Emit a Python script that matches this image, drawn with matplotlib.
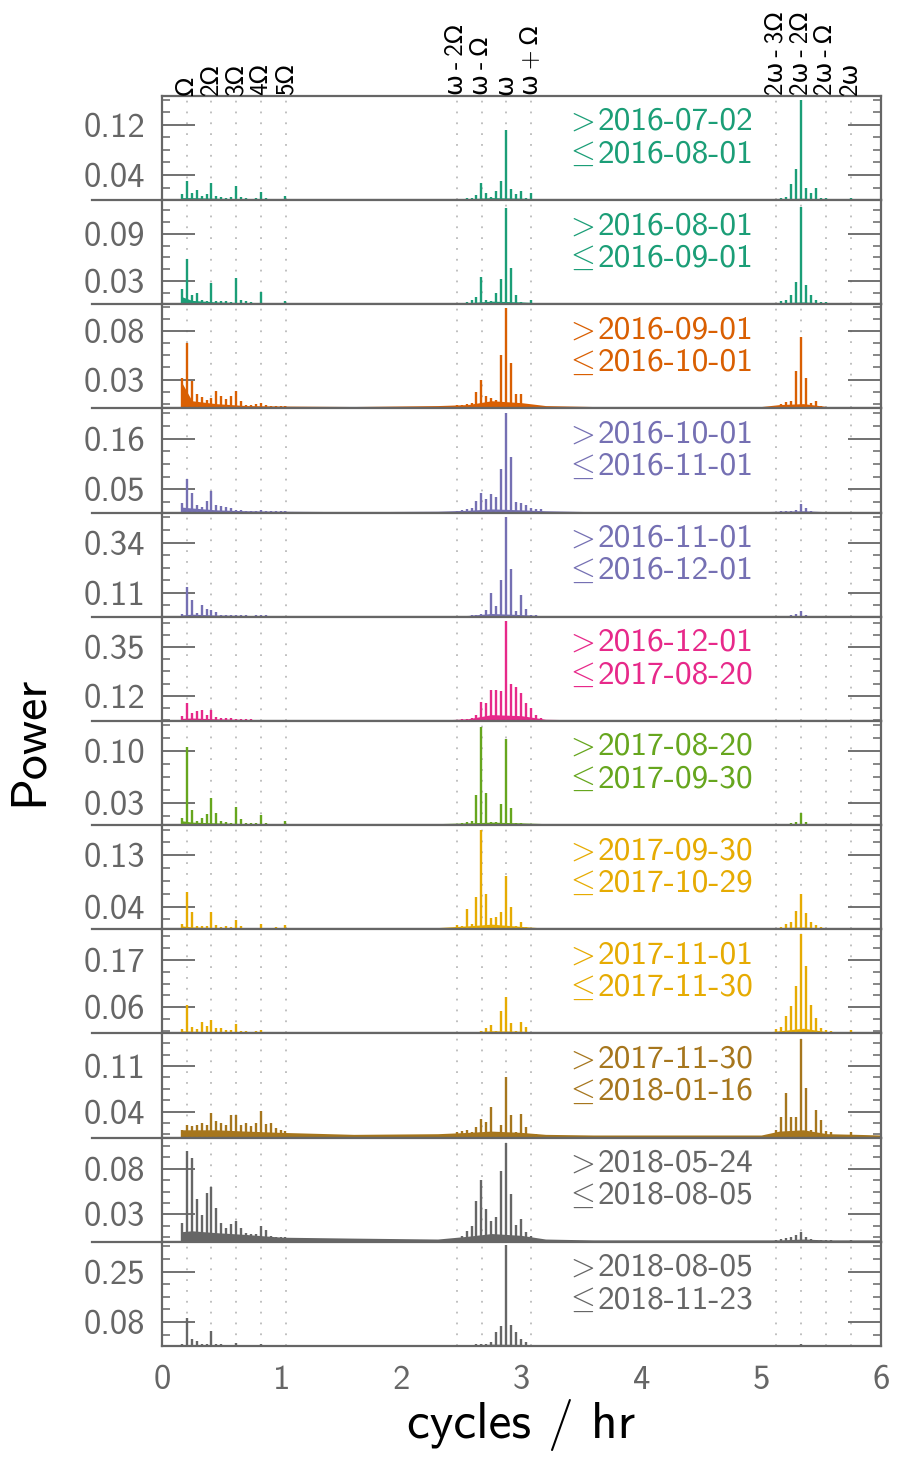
import matplotlib
matplotlib.use("Agg")
import matplotlib.pyplot as plt

plt.rcParams['font.family'] = ['cmss10', 'DejaVu Sans']
plt.rcParams['mathtext.fontset'] = 'cm'
plt.rcParams['axes.unicode_minus'] = False

# --- data -----------------------------------------------------------------
f_orb = 0.2063   # Omega, cycles / hr
f_spin = 2.873   # omega, cycles / hr

date_from = ['2016-07-02', '2016-08-01', '2016-09-01', '2016-10-01', '2016-11-01', '2016-12-01',
             '2017-08-20', '2017-09-30', '2017-11-01', '2017-11-30', '2018-05-24', '2018-08-05']
date_to = ['2016-08-01', '2016-09-01', '2016-10-01', '2016-11-01', '2016-12-01', '2017-08-20',
           '2017-09-30', '2017-10-29', '2017-11-30', '2018-01-16', '2018-08-05', '2018-11-23']
colors = ['#1b9e77', '#1b9e77', '#d95f02', '#7570b3', '#7570b3', '#e7298a',
          '#66a61e', '#e6ab02', '#e6ab02', '#a6761d', '#666666', '#666666']

y_top = [0.166, 0.133, 0.108, 0.225, 0.477, 0.495, 0.14, 0.183, 0.24, 0.16, 0.114, 0.35]
tick_lo = [0.04, 0.03, 0.03, 0.05, 0.11, 0.12, 0.03, 0.04, 0.06, 0.04, 0.03, 0.08]
tick_hi = [0.12, 0.09, 0.08, 0.16, 0.34, 0.35, 0.10, 0.13, 0.17, 0.11, 0.08, 0.25]

# peaks near the orbital harmonics
low_freq = [0.164, 0.206, 0.248, 0.290, 0.330, 0.373, 0.412, 0.453, 0.495, 0.537, 0.577,
            0.618, 0.660, 0.700, 0.742, 0.784, 0.824, 0.866, 0.907, 0.950, 0.990, 1.030]
low_power = [
    [0.0095, 0.031, 0.012, 0.016, 0.006, 0.009, 0.027, 0.007, 0.005, 0.004, 0.005, 0.023, 0.005, 0.003, 0.002, 0.003, 0.013, 0.003, 0.002, 0.002, 0.002, 0.007],
    [0.019, 0.058, 0.012, 0.015, 0.005, 0.004, 0.027, 0.004, 0.004, 0.004, 0.003, 0.033, 0.005, 0.004, 0.003, 0.002, 0.016, 0.002, 0.002, 0.002, 0.002, 0.004],
    [0.032, 0.068, 0.028, 0.015, 0.012, 0.009, 0.011, 0.018, 0.013, 0.010, 0.013, 0.018, 0.008, 0.004, 0.004, 0.005, 0.006, 0.004, 0.003, 0.003, 0.003, 0.003],
    [0.020, 0.073, 0.043, 0.017, 0.013, 0.026, 0.047, 0.017, 0.015, 0.013, 0.010, 0.006, 0.005, 0.004, 0.004, 0.003, 0.005, 0.003, 0.003, 0.003, 0.003, 0.003],
    [0.013, 0.137, 0.077, 0.018, 0.055, 0.037, 0.031, 0.022, 0.010, 0.008, 0.008, 0.008, 0.006, 0.006, 0.005, 0.006, 0.010, 0.006, 0.005, 0.005, 0.004, 0.005],
    [0.024, 0.087, 0.037, 0.048, 0.051, 0.027, 0.054, 0.019, 0.016, 0.016, 0.013, 0.011, 0.010, 0.008, 0.010, 0.006, 0.006, 0.005, 0.004, 0.004, 0.004, 0.004],
    [0.009, 0.105, 0.020, 0.006, 0.009, 0.0145, 0.036, 0.016, 0.005, 0.004, 0.003, 0.024, 0.008, 0.003, 0.003, 0.003, 0.013, 0.003, 0.002, 0.002, 0.002, 0.006],
    [0.010, 0.065, 0.031, 0.005, 0.005, 0.006, 0.031, 0.007, 0.004, 0.005, 0.004, 0.017, 0.006, 0.003, 0.003, 0.003, 0.009, 0.003, 0.003, 0.004, 0.003, 0.008],
    [0.010, 0.065, 0.015, 0.010, 0.027, 0.016, 0.032, 0.013, 0.013, 0.008, 0.009, 0.022, 0.006, 0.005, 0.004, 0.006, 0.009, 0.003, 0.002, 0.002, 0.002, 0.002],
    [0.012, 0.020, 0.018, 0.020, 0.022, 0.020, 0.038, 0.025, 0.022, 0.020, 0.035, 0.035, 0.020, 0.023, 0.018, 0.023, 0.041, 0.021, 0.023, 0.015, 0.012, 0.010],
    [0.021, 0.099, 0.092, 0.047, 0.029, 0.053, 0.060, 0.0375, 0.020, 0.015, 0.019, 0.023, 0.015, 0.010, 0.008, 0.008, 0.0175, 0.013, 0.006, 0.005, 0.005, 0.005],
    [0.006, 0.095, 0.024, 0.017, 0.006, 0.008, 0.050, 0.006, 0.005, 0.004, 0.004, 0.009, 0.003, 0.002, 0.002, 0.002, 0.008, 0.002, 0.002, 0.002, 0.002, 0.003],
]

# peaks around the spin frequency
mid_freq = [2.459, 2.500, 2.543, 2.584, 2.623, 2.665, 2.707, 2.746, 2.787,
            2.829, 2.871, 2.912, 2.954, 2.996, 3.038, 3.077, 3.120, 3.160]
mid_power = [
    [0.002, 0.002, 0.003, 0.003, 0.008, 0.027, 0.011, 0.005, 0.015, 0.031, 0.111, 0.017, 0.009, 0.014, 0.003, 0.011, 0.002, 0.002],
    [0.002, 0.002, 0.003, 0.005, 0.009, 0.035, 0.005, 0.004, 0.014, 0.032, 0.123, 0.046, 0.012, 0.003, 0.002, 0.005, 0.002, 0.002],
    [0.004, 0.004, 0.005, 0.006, 0.017, 0.029, 0.013, 0.011, 0.009, 0.055, 0.104, 0.047, 0.015, 0.015, 0.005, 0.004, 0.003, 0.002],
    [0.004, 0.005, 0.007, 0.011, 0.026, 0.043, 0.029, 0.041, 0.034, 0.095, 0.215, 0.121, 0.024, 0.020, 0.016, 0.010, 0.007, 0.008],
    [0.004, 0.004, 0.005, 0.006, 0.008, 0.013, 0.029, 0.108, 0.049, 0.168, 0.457, 0.219, 0.025, 0.099, 0.037, 0.008, 0.006, 0.005],
    [0.006, 0.008, 0.010, 0.012, 0.027, 0.090, 0.087, 0.147, 0.147, 0.140, 0.473, 0.175, 0.163, 0.135, 0.087, 0.063, 0.027, 0.012],
    [0.002, 0.003, 0.004, 0.006, 0.040, 0.132, 0.043, 0.004, 0.004, 0.028, 0.116, 0.0225, 0.003, 0.003, 0.002, 0.002, 0.002, 0.001],
    [0.008, 0.006, 0.035, 0.010, 0.056, 0.175, 0.062, 0.019, 0.022, 0.031, 0.093, 0.040, 0.006, 0.013, 0.004, 0.003, 0.002, 0.002],
    [0.004, 0.003, 0.004, 0.003, 0.004, 0.005, 0.012, 0.019, 0.006, 0.052, 0.084, 0.025, 0.006, 0.0275, 0.015, 0.003, 0.002, 0.002],
    [0.009, 0.010, 0.012, 0.009, 0.016, 0.029, 0.024, 0.047, 0.007, 0.020, 0.093, 0.034, 0.008, 0.036, 0.016, 0.006, 0.005, 0.004],
    [0.004, 0.006, 0.012, 0.0175, 0.045, 0.068, 0.036, 0.023, 0.027, 0.077, 0.108, 0.052, 0.0186, 0.025, 0.011, 0.006, 0.003, 0.002],
    [0.003, 0.003, 0.004, 0.004, 0.005, 0.006, 0.008, 0.013, 0.047, 0.067, 0.340, 0.071, 0.047, 0.023, 0.013, 0.004, 0.002, 0.002],
]

# peaks around twice the spin frequency
high_freq = [5.125, 5.166, 5.208, 5.249, 5.291, 5.330, 5.372, 5.413, 5.455, 5.497, 5.539, 5.580, 5.750]
high_power = [
    [0.002, 0.003, 0.005, 0.026, 0.049, 0.160, 0.019, 0.012, 0.019, 0.004, 0.004, 0.002, 0.003],
    [0.002, 0.004, 0.006, 0.012, 0.028, 0.124, 0.025, 0.012, 0.006, 0.003, 0.003, 0.002, 0.002],
    [0.003, 0.005, 0.007, 0.008, 0.039, 0.074, 0.032, 0.006, 0.008, 0.003, 0.002, 0.002, 0.002],
    [0.002, 0.003, 0.004, 0.004, 0.006, 0.019, 0.010, 0.003, 0.002, 0.002, 0.002, 0.001, 0.001],
    [0.003, 0.004, 0.005, 0.008, 0.012, 0.027, 0.008, 0.004, 0.003, 0.002, 0.002, 0.002, 0.002],
    [0.003, 0.003, 0.003, 0.004, 0.004, 0.006, 0.004, 0.003, 0.003, 0.002, 0.002, 0.002, 0.002],
    [0.002, 0.002, 0.002, 0.003, 0.004, 0.016, 0.004, 0.002, 0.002, 0.001, 0.001, 0.001, 0.001],
    [0.003, 0.004, 0.010, 0.012, 0.032, 0.062, 0.028, 0.012, 0.008, 0.004, 0.003, 0.002, 0.002],
    [0.010, 0.015, 0.040, 0.064, 0.110, 0.230, 0.155, 0.065, 0.035, 0.012, 0.008, 0.006, 0.008],
    [0.012, 0.031, 0.068, 0.032, 0.031, 0.152, 0.076, 0.012, 0.042, 0.027, 0.010, 0.008, 0.008],
    [0.002, 0.003, 0.004, 0.005, 0.007, 0.011, 0.005, 0.003, 0.002, 0.002, 0.002, 0.002, 0.002],
    [0.002, 0.002, 0.003, 0.003, 0.004, 0.006, 0.004, 0.002, 0.002, 0.001, 0.001, 0.001, 0.001],
]

# rough noise floor of each spectrum
floor_freq = [0.16, 0.25, 0.45, 0.7, 1.0, 1.6, 2.3, 2.55, 2.75, 3.0, 3.2, 3.6, 5.0, 5.15, 5.35, 5.55, 5.8, 6.0]
floor_power = [
    [0.004, 0.004, 0.003, 0.002, 0.0015, 0.001, 0.001, 0.002, 0.004, 0.003, 0.0015, 0.001, 0.001, 0.002, 0.003, 0.0015, 0.001, 0.001],
    [0.010, 0.005, 0.003, 0.002, 0.0015, 0.001, 0.001, 0.002, 0.004, 0.003, 0.0015, 0.001, 0.001, 0.002, 0.003, 0.0015, 0.001, 0.001],
    [0.028, 0.008, 0.005, 0.003, 0.0025, 0.002, 0.003, 0.004, 0.008, 0.006, 0.003, 0.002, 0.002, 0.004, 0.005, 0.002, 0.002, 0.002],
    [0.012, 0.010, 0.006, 0.004, 0.003, 0.002, 0.003, 0.005, 0.008, 0.006, 0.004, 0.002, 0.002, 0.003, 0.004, 0.002, 0.002, 0.002],
    [0.008, 0.012, 0.008, 0.006, 0.005, 0.004, 0.004, 0.006, 0.015, 0.010, 0.004, 0.003, 0.003, 0.004, 0.004, 0.003, 0.003, 0.003],
    [0.012, 0.014, 0.010, 0.007, 0.005, 0.004, 0.004, 0.010, 0.030, 0.025, 0.008, 0.004, 0.003, 0.004, 0.004, 0.003, 0.003, 0.003],
    [0.006, 0.004, 0.003, 0.002, 0.002, 0.0015, 0.002, 0.003, 0.004, 0.003, 0.002, 0.0015, 0.0015, 0.002, 0.002, 0.0015, 0.0015, 0.0015],
    [0.006, 0.004, 0.003, 0.002, 0.002, 0.0015, 0.003, 0.006, 0.009, 0.005, 0.002, 0.0015, 0.0015, 0.003, 0.004, 0.002, 0.0015, 0.0015],
    [0.006, 0.005, 0.004, 0.003, 0.002, 0.002, 0.002, 0.003, 0.006, 0.005, 0.002, 0.002, 0.002, 0.006, 0.012, 0.004, 0.003, 0.003],
    [0.012, 0.012, 0.012, 0.010, 0.008, 0.005, 0.006, 0.008, 0.010, 0.008, 0.005, 0.004, 0.004, 0.010, 0.012, 0.006, 0.005, 0.004],
    [0.011, 0.012, 0.010, 0.008, 0.005, 0.004, 0.003, 0.006, 0.009, 0.007, 0.003, 0.002, 0.002, 0.002, 0.003, 0.002, 0.002, 0.002],
    [0.004, 0.004, 0.003, 0.002, 0.002, 0.0015, 0.002, 0.003, 0.006, 0.005, 0.002, 0.0015, 0.0015, 0.002, 0.002, 0.0015, 0.0015, 0.0015],
]

# combination frequencies marked at the top (thin spaces around the signs)
marker_labels = ['Ω', '2Ω', '3Ω', '4Ω', '5Ω', 'ω\u2009-\u20092Ω', 'ω\u2009-\u2009Ω', 'ω', 'ω\u2009+\u2009Ω',
                 '2ω\u2009-\u20093Ω', '2ω\u2009-\u20092Ω', '2ω\u2009-\u2009Ω', '2ω']
marker_freq = [f_orb, 2 * f_orb, 3 * f_orb, 4 * f_orb, 5 * f_orb,
               f_spin - 2 * f_orb, f_spin - f_orb, f_spin, f_spin + f_orb,
               2 * f_spin - 3 * f_orb, 2 * f_spin - 2 * f_orb, 2 * f_spin - f_orb, 2 * f_spin]

# --- figure ---------------------------------------------------------------
fig = plt.figure(figsize=(9, 14.81), dpi=100)
axes = fig.subplots(12, 1, sharex=True,
                    gridspec_kw=dict(hspace=0, left=0.18, right=0.979, top=0.9352, bottom=0.0912))

grey = '#666666'
for i, ax in enumerate(axes):
    c = colors[i]
    for f in marker_freq:
        ax.axvline(f, color='#bbbbbb', lw=1.3, ls=(0, (1, 5)), zorder=0)

    ax.fill_between(floor_freq, 0, floor_power[i], color=c, lw=0, zorder=2)
    ax.vlines(low_freq, 0, low_power[i], color=c, lw=1.7, zorder=3)
    ax.vlines(mid_freq, 0, mid_power[i], color=c, lw=1.7, zorder=3)
    ax.vlines(high_freq, 0, high_power[i], color=c, lw=1.7, zorder=3)

    ax.set_xlim(0, 6)
    ax.set_ylim(0, y_top[i])

    lo, hi = tick_lo[i], tick_hi[i]
    ax.set_yticks([lo, hi])
    ax.set_yticklabels([f'{lo:.2f}', f'{hi:.2f}'])
    step = (hi - lo) / 4
    minor = [lo + k * step for k in range(-8, 12) if 0 < lo + k * step < y_top[i]]
    ax.set_yticks(minor, minor=True)

    ax.tick_params(axis='y', which='major', direction='in', length=24, width=1.3,
                   color=grey, labelcolor=grey, labelsize=25, pad=12, left=True, right=True)
    ax.tick_params(axis='y', which='minor', direction='in', length=6, width=1.1,
                   color=grey, left=True, right=True)
    ax.tick_params(axis='x', length=0, labelcolor=grey, labelsize=25, pad=14)

    for s in ax.spines.values():
        s.set_color(grey)
        s.set_linewidth(1.6)

    # panel separators reaching into the label column
    if i < len(axes) - 1:
        ax.plot([-0.097, 0], [0, 0], transform=ax.get_yaxis_transform(),
                color=grey, lw=1.6, clip_on=False)

    ax.text(0.561, 0.755, r'$>$', transform=ax.transAxes, color=c, fontsize=23,
            ha='left', va='center')
    ax.text(0.606, 0.755, date_from[i], transform=ax.transAxes, color=c, fontsize=24,
            ha='left', va='center')
    ax.text(0.561, 0.445, r'$\leq$', transform=ax.transAxes, color=c, fontsize=23,
            ha='left', va='center')
    ax.text(0.606, 0.445, date_to[i], transform=ax.transAxes, color=c, fontsize=24,
            ha='left', va='center')

axes[-1].set_xticks(range(7))
axes[-1].set_xticklabels([str(v) for v in range(7)])

for f, lab in zip(marker_freq, marker_labels):
    axes[0].text(f, 1.01, lab, transform=axes[0].get_xaxis_transform(), rotation=90,
                 ha='center', va='bottom', fontsize=18, color='black')

fig.text(0.033, 0.5, 'Power', rotation=90, ha='center', va='center', fontsize=36)
fig.text(0.579, 0.038, 'cycles / hr', ha='center', va='center', fontsize=37)

fig.savefig('out.png', dpi=100)
